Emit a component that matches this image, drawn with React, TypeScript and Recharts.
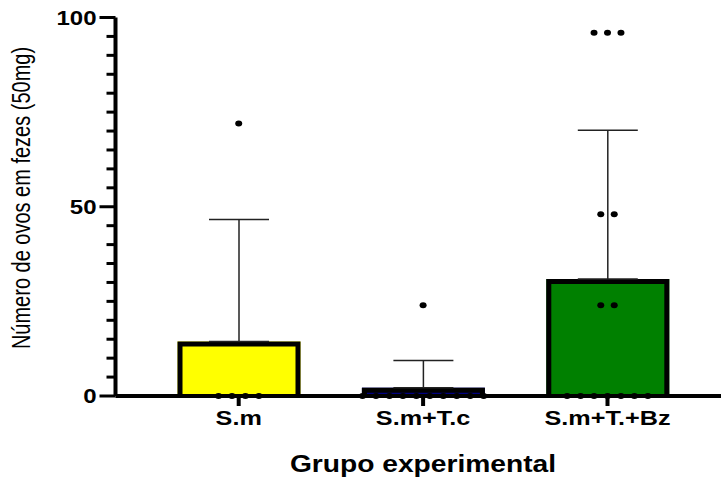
import { Bar, ComposedChart, ErrorBar, Scatter, XAxis, YAxis } from "recharts";

const groups = ["S.m", "S.m+T.c", "S.m+T.+Bz"];
const means = [14.4, 2.2, 30.9];
const sds = [32.2, 7.2, 39.3];
const colors = ["#ffff00", "#000080", "#008000"];

// individual animals per group
const smPoints = [72, 0, 0, 0, 0];
const tcPoints = [24, 0, 0, 0, 0, 0, 0, 0, 0, 0, 0];
const bzPoints = [96, 96, 96, 48, 48, 24, 24, 0, 0, 0, 0, 0, 0, 0];

const yTicks = [0, 5, 10, 15, 20, 25, 30, 35, 40, 45, 50, 55, 60, 65, 70, 75, 80, 85, 90, 95, 100];

const FONT = "'Liberation Sans', Arial, sans-serif";
const PAD = { left: 31, right: 21.3 };
const DOT_STEP = 0.073; // horizontal spread between equal values, in category units

const barData = groups.map((name, i) => ({ name, mean: means[i], err: [0, sds[i]], color: colors[i] }));

function spread(points: number[], gi: number) {
  const counts: Record<number, number> = {};
  points.forEach((v) => (counts[v] = (counts[v] || 0) + 1));
  const seen: Record<number, number> = {};
  return points.map((v) => {
    seen[v] = (seen[v] ?? -1) + 1;
    return { x: gi + (seen[v] - (counts[v] - 1) / 2) * DOT_STEP, y: v };
  });
}

const dots = [...spread(smPoints, 0), ...spread(tcPoints, 1), ...spread(bzPoints, 2)];

function BarShape(props: any) {
  const { x, y, width, height, payload } = props;
  const sw = 5;
  return (
    <g>
      <rect x={x} y={y} width={width} height={height} fill={payload.color} />
      <path
        d={`M${x + sw / 2},${y + height} L${x + sw / 2},${y + sw / 2} L${x + width - sw / 2},${y + sw / 2} L${x + width - sw / 2},${y + height}`}
        fill="none"
        stroke="#000"
        strokeWidth={sw}
      />
    </g>
  );
}

function Dot(props: any) {
  return <ellipse cx={props.cx} cy={props.cy} rx={3.5} ry={3} fill="#000" />;
}

function YTick(props: any) {
  const { x, y, payload } = props;
  const major = payload.value % 50 === 0;
  const len = major ? 16 : 9;
  return (
    <g>
      <line x1={x - len} x2={x} y1={y} y2={y} stroke="#000" strokeWidth={3} />
      {major && (
        <text
          transform={`translate(${x - 19},${y + 7}) scale(1.2,1)`}
          textAnchor="end"
          fontFamily={FONT}
          fontWeight="bold"
          fontSize={20}
          fill="#000"
        >
          {payload.value}
        </text>
      )}
    </g>
  );
}

function XTick(props: any) {
  const { x, payload } = props;
  return (
    <text
      transform={`translate(${x},425) scale(1.2,1)`}
      textAnchor="middle"
      fontFamily={FONT}
      fontWeight="bold"
      fontSize={21}
      fill="#000"
    >
      {payload.value}
    </text>
  );
}

export default function App() {
  return (
    <div style={{ position: "absolute", left: 0, top: 0 }}>
      <ComposedChart
        width={721}
        height={479}
        data={barData}
        margin={{ top: 17.5, right: 0, bottom: 0, left: 0 }}
      >
        <XAxis
          xAxisId="cat"
          dataKey="name"
          padding={PAD}
          interval={0}
          axisLine={{ stroke: "#000", strokeWidth: 4 }}
          tickLine={{ stroke: "#000", strokeWidth: 4 }}
          tickSize={10}
          height={83}
          tick={<XTick />}
          label={{
            content: () => (
              <text
                transform="translate(423,472) scale(1.2,1)"
                textAnchor="middle"
                fontFamily={FONT}
                fontWeight="bold"
                fontSize={23.5}
                fill="#000"
              >
                Grupo experimental
              </text>
            ),
          }}
        />
        <XAxis xAxisId="num" dataKey="x" type="number" domain={[-0.5, 2.5]} padding={PAD} hide allowDataOverflow />
        <YAxis
          domain={[0, 100]}
          ticks={yTicks}
          interval={0}
          width={115.5}
          axisLine={{ stroke: "#000", strokeWidth: 4 }}
          tickLine={false}
          tickSize={0}
          tickMargin={0}
          tick={<YTick />}
          label={{
            content: () => (
              <text
                transform="translate(21,198) scale(1.32,1) rotate(-90)"
                textAnchor="middle"
                dominantBaseline="central"
                fontFamily={FONT}
                fontSize={20}
                fill="#000"
              >
                Número de ovos em fezes (50mg)
              </text>
            ),
          }}
        />
        <Bar xAxisId="cat" dataKey="mean" barSize={123} shape={<BarShape />} isAnimationActive={false}>
          <ErrorBar dataKey="err" direction="y" width={30} stroke="#222" strokeWidth={1.5} isAnimationActive={false} />
        </Bar>
        <Scatter xAxisId="num" data={dots} dataKey="y" shape={<Dot />} isAnimationActive={false} />
      </ComposedChart>
    </div>
  );
}
